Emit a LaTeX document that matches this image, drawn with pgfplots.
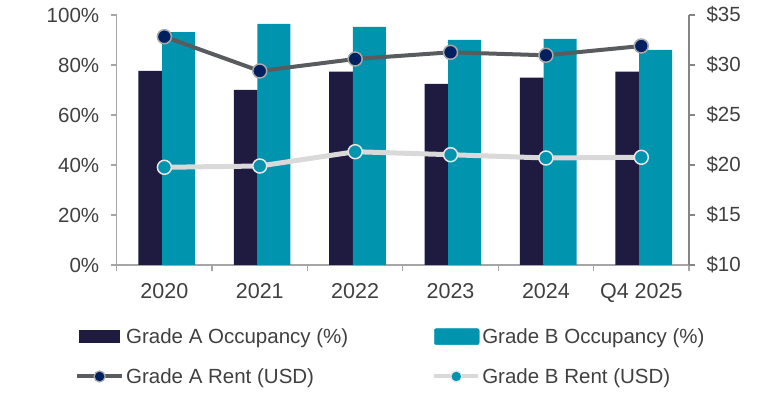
\documentclass[border=0pt]{standalone}
\usepackage{pgfplots}
\pgfplotsset{compat=1.18}
\usepackage{fontspec}
\setmainfont{Liberation Sans}
\definecolor{barA}{HTML}{1F1A40}
\definecolor{barB}{HTML}{0094AE}
\definecolor{lineA}{HTML}{585C5E}
\definecolor{markA}{HTML}{00205F}
\definecolor{markAb}{HTML}{A8A8A8}
\definecolor{lineB}{HTML}{D9D9D9}
\definecolor{markB}{HTML}{0094AE}
\definecolor{markBb}{HTML}{E6E6E6}
\definecolor{axgray}{HTML}{A6A6A6}
\definecolor{axgray2}{HTML}{858585}
\definecolor{txt}{HTML}{404040}
\begin{document}
\begin{tikzpicture}
\path[use as bounding box] (0pt,0pt) rectangle (780pt,394pt);
\begin{axis}[
  at={(116.7pt,129pt)}, anchor=south west,
  scale only axis, width=572.3pt, height=250pt,
  xmin=-0.5, xmax=5.5, ymin=0, ymax=100,
  axis y line*=left, axis x line*=bottom,
  axis line style={draw=axgray, line width=1.2pt, -},
  xtick={0,...,5}, xticklabels={2020,2021,2022,2023,2024,Q4 2025},
  minor xtick={-0.5,0.5,...,5.5},
  major x tick style={draw=none},
  minor x tick style={draw=axgray, line width=1.2pt},
  tick align=outside, major tick length=6pt, minor tick length=6pt,
  ytick={0,20,...,100}, yticklabels={0\%,20\%,40\%,60\%,80\%,100\%},
  y tick style={draw=axgray, line width=1.2pt},
  yticklabel style={font=\fontsize{20.5}{24}\selectfont, text=txt, xshift=-8pt},
  xticklabel style={font=\fontsize{21.5}{25}\selectfont, text=txt, yshift=-9pt},
  clip=false,
]
\addplot[ybar, bar width=23.7pt, bar shift=-14.1pt, fill=barA, draw=none]
  coordinates {(0,77.6) (1,70.0) (2,77.3) (3,72.4) (4,74.9) (5,77.3)};
\addplot[ybar, bar width=33pt, bar shift=14.2pt, fill=barB, draw=none]
  coordinates {(0,93.1) (1,96.4) (2,95.2) (3,90.0) (4,90.4) (5,86.0)};
\end{axis}
\begin{axis}[
  at={(116.7pt,129pt)}, anchor=south west,
  scale only axis, width=572.3pt, height=250pt,
  xmin=-0.5, xmax=5.5, ymin=10, ymax=35,
  axis y line*=right, axis x line=none,
  y axis line style={draw=axgray2, line width=1.2pt, -},
  ytick={10,15,...,35}, yticklabels={\$10,\$15,\$20,\$25,\$30,\$35},
  y tick style={draw=axgray2, line width=1.2pt},
  tick align=outside, major tick length=6pt,
  yticklabel style={font=\fontsize{20.5}{24}\selectfont, text=txt, xshift=8pt},
  clip=false,
  legend columns=2,
  legend cell align=left,
  legend style={at={(-0.073,-0.245)}, anchor=north west, draw=none, fill=none,
    inner sep=0pt, row sep=19.5pt,
    font=\fontsize{20.5}{24}\selectfont, text=txt,
    nodes={inner sep=2pt},
    /tikz/every even column/.append style={column sep=82pt}},
]
\addlegendimage{legend image code/.code={\fill[barA] (2pt,-6pt) rectangle (42pt,6pt);}}
\addlegendimage{legend image code/.code={\fill[barB, rounded corners=2pt] (0pt,-8pt) rectangle (45pt,8pt);}}
\addlegendimage{legend image code/.code={\draw[lineA, line width=4pt] (0pt,0pt) -- (45pt,0pt);
  \draw[fill=markA, draw=markAb, line width=1.2pt] (22.5pt,0pt) circle (5.5pt);}}
\addlegendimage{legend image code/.code={\draw[lineB, line width=4pt] (0pt,0pt) -- (44pt,0pt);
  \draw[fill=markB, draw=markBb, line width=1.2pt] (22pt,0pt) circle (5.5pt);}}
\addplot[lineA, line width=4pt, mark=*, mark size=7pt,
  mark options={fill=markA, draw=markAb, line width=1.5pt}, forget plot]
  coordinates {(0,32.83) (1,29.4) (2,30.6) (3,31.27) (4,30.97) (5,31.9)};
\addplot[lineB, line width=5pt, mark=*, mark size=7pt,
  mark options={fill=markB, draw=markBb, line width=1.5pt}, forget plot]
  coordinates {(0,19.77) (1,19.9) (2,21.33) (3,21.03) (4,20.7) (5,20.77)};
\legend{Grade A Occupancy (\%), Grade B Occupancy (\%), Grade A Rent (USD), Grade B Rent (USD)}
\end{axis}
\end{tikzpicture}
\end{document}
